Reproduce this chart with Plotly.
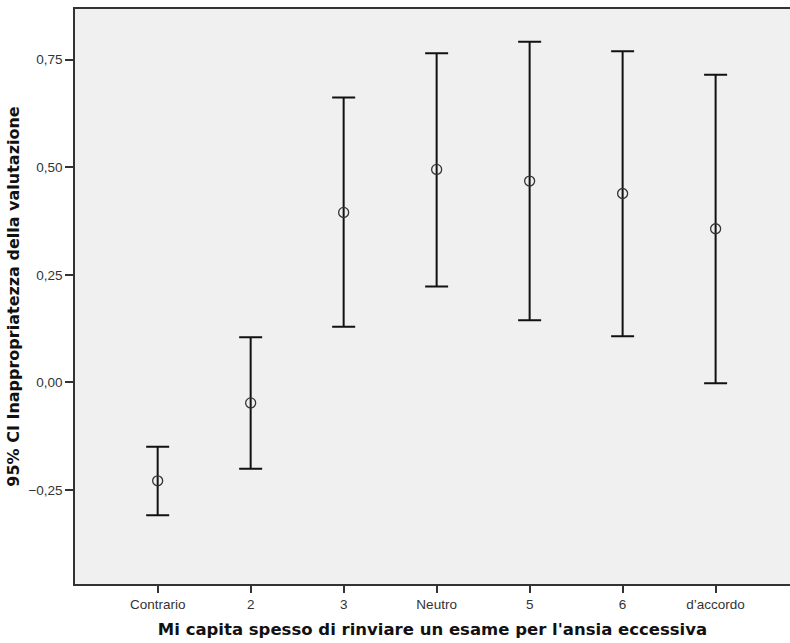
import plotly.graph_objects as go

categories = ["Contrario", "2", "3", "Neutro", "5", "6", "d\u2019accordo"]
means = [-0.229, -0.048, 0.395, 0.495, 0.468, 0.439, 0.357]
upper = [-0.150, 0.105, 0.662, 0.765, 0.792, 0.770, 0.715]
lower = [-0.309, -0.201, 0.129, 0.223, 0.144, 0.107, -0.002]

xidx = list(range(len(categories)))
err_plus = [u - m for u, m in zip(upper, means)]
err_minus = [m - l for m, l in zip(means, lower)]

fig = go.Figure()
fig.add_trace(go.Scatter(
    x=xidx, y=means, mode="markers",
    marker=dict(symbol="circle-open", size=10, color="#333333", line=dict(width=1.3, color="#333333")),
    error_y=dict(type="data", symmetric=False, array=err_plus, arrayminus=err_minus,
                 color="#111111", thickness=2, width=11.5),
    showlegend=False, hoverinfo="skip",
))

fig.update_layout(
    width=790, height=643,
    margin=dict(l=75, r=0, t=9, b=59, autoexpand=False),
    paper_bgcolor="white", plot_bgcolor="#f0f0f0",
    separators=",.",
    font=dict(family="Liberation Sans, Arial", size=14, color="#333333"),
)
fig.update_xaxes(
    range=[-0.889, 6.80], tickmode="array", tickvals=xidx, ticktext=categories,
    showline=True, linecolor="#333333", linewidth=1.5, mirror=True,
    ticks="outside", ticklen=7, tickwidth=1.5, tickcolor="#333333",
    showgrid=False, zeroline=False, automargin=False,
    tickfont=dict(size=13.5, color="#333333"),
    title=dict(text="<b>Mi capita spesso di rinviare un esame per l'ansia eccessiva</b>",
               font=dict(family="DejaVu Sans", size=16.5, color="#111111"), standoff=12),
)
fig.update_yaxes(
    range=[-0.469, 0.868], tickvals=[-0.25, 0, 0.25, 0.5, 0.75], tickformat=".2f",
    showline=True, linecolor="#333333", linewidth=1.5, mirror=False,
    ticks="outside", ticklen=8, tickwidth=1.5, tickcolor="#333333",
    showgrid=False, zeroline=False, automargin=False,
    tickfont=dict(size=13.5, color="#333333"),
    title=dict(text="<b>95% CI Inappropriatezza della valutazione</b>",
               font=dict(family="DejaVu Sans", size=16, color="#111111"), standoff=5),
)

fig.write_html("out.html", config={"displayModeBar": False},
               post_script="document.body.style.margin='0';")
